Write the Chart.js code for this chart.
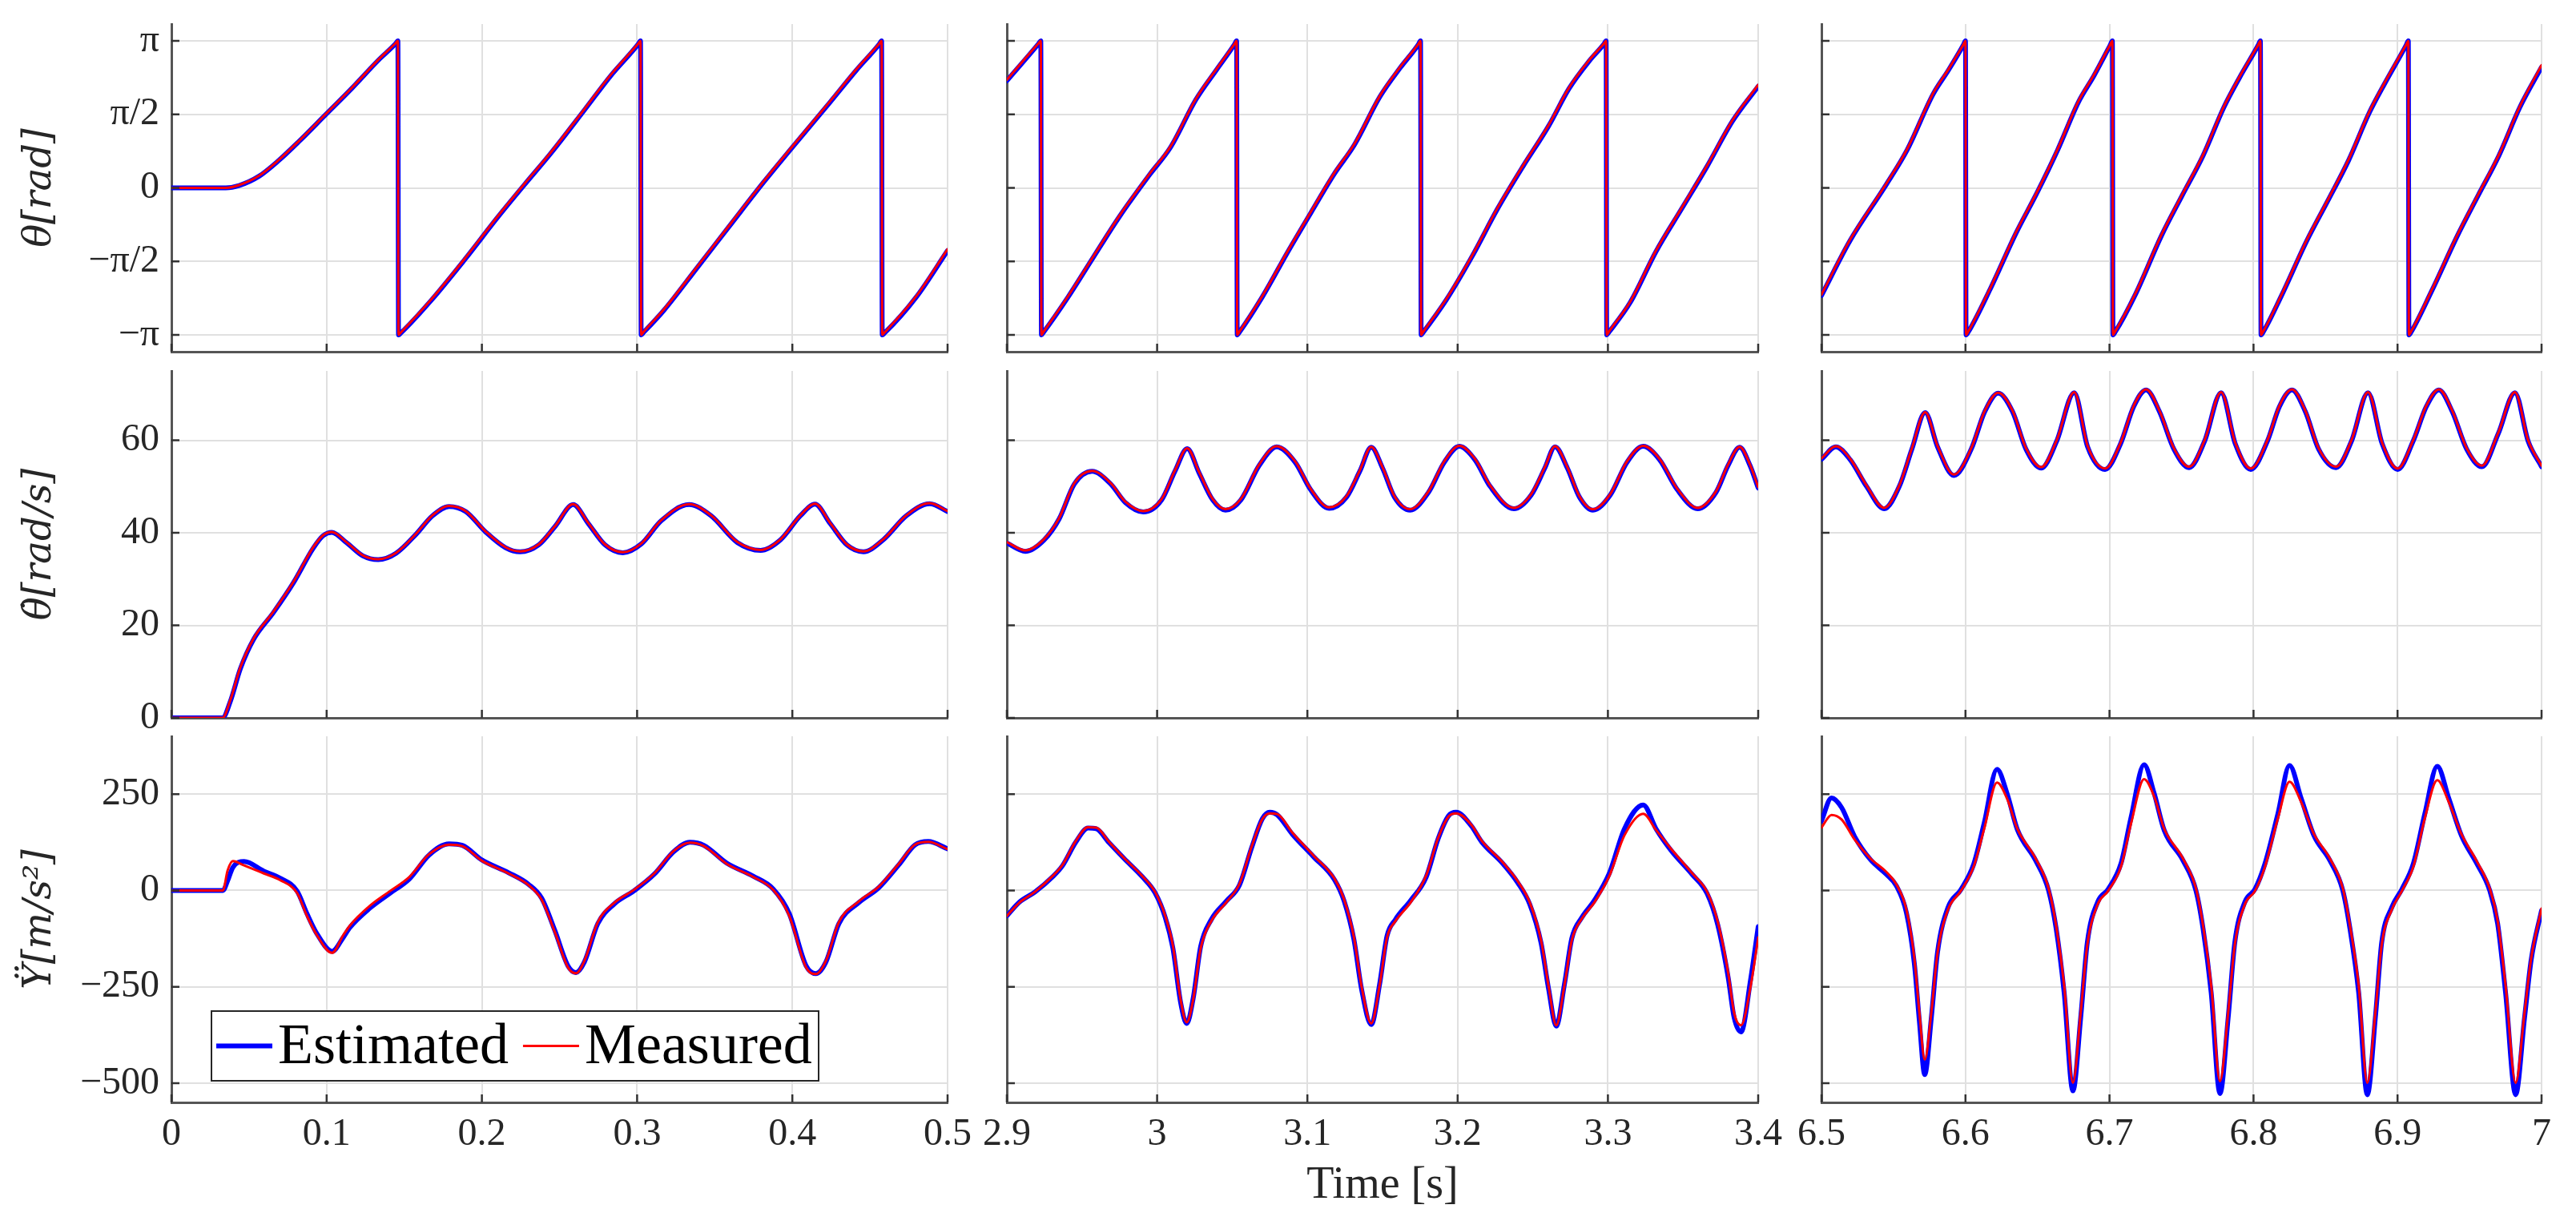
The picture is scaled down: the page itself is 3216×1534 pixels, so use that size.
<!DOCTYPE html>
<html>
<head>
<meta charset="utf-8">
<title>Estimated vs measured</title>
<script src="https://cdn.jsdelivr.net/npm/chart.js@4.4.0/dist/chart.umd.min.js"></script>
<style>
  html, body { margin: 0; padding: 0; background: #fff; }
  body { width: 3216px; height: 1534px; position: relative; overflow: hidden; }
  canvas { position: absolute; }
</style>
</head>
<body>
<script>
// --- tick values / labels ---
const thetaTicks = [-Math.PI, -Math.PI / 2, 0, Math.PI / 2, Math.PI];
const thetaTickLabels = ['\u2212\u03c0', '\u2212\u03c0/2', '0', '\u03c0/2', '\u03c0'];
const omegaTicks = [0, 20, 40, 60];
const omegaTickLabels = ['0', '20', '40', '60'];
const accTicks = [-500, -250, 0, 250];
const accTickLabels = ['\u2212500', '\u2212250', '0', '250'];
const timeTicks1 = [0, 0.1, 0.2, 0.3, 0.4, 0.5];
const timeLabels1 = ['0', '0.1', '0.2', '0.3', '0.4', '0.5'];
const timeTicks2 = [2.9, 3.0, 3.1, 3.2, 3.3, 3.4];
const timeLabels2 = ['2.9', '3', '3.1', '3.2', '3.3', '3.4'];
const timeTicks3 = [6.5, 6.6, 6.7, 6.8, 6.9, 7.0];
const timeLabels3 = ['6.5', '6.6', '6.7', '6.8', '6.9', '7'];

// --- theta [rad] ---
const th1T = [0, 0.035, 0.0436, 0.0565, 0.0693, 0.0821, 0.0992, 0.1163, 0.1334, 0.1444, 0.1459, 0.1463, 0.1478, 0.1677, 0.189, 0.2104, 0.2275, 0.2447, 0.266, 0.2831, 0.3007, 0.3022, 0.3026, 0.3041, 0.3174, 0.3388, 0.3601, 0.3815, 0.3986, 0.4243, 0.4414, 0.456, 0.4575, 0.4579, 0.4594, 0.4799, 0.5];
const th1Meas = [0, 0, 0.06, 0.26, 0.6, 1.0, 1.57, 2.14, 2.74, 3.09, 3.14, -3.14, -3.09, -2.37, -1.51, -0.6, 0.09, 0.77, 1.68, 2.42, 3.08, 3.14, -3.14, -3.08, -2.59, -1.68, -0.77, 0.14, 0.83, 1.85, 2.54, 3.08, 3.14, -3.14, -3.09, -2.31, -1.31];
const th1Est = [0, 0, 0.05, 0.25, 0.59, 0.99, 1.56, 2.13, 2.73, 3.08, 3.14, -3.14, -3.10, -2.39, -1.53, -0.62, 0.07, 0.75, 1.66, 2.40, 3.07, 3.14, -3.14, -3.09, -2.61, -1.70, -0.79, 0.12, 0.81, 1.83, 2.52, 3.07, 3.14, -3.14, -3.10, -2.33, -1.34];

const th2T = [2.9, 2.9211, 2.9226, 2.923, 2.9245, 2.9408, 2.9578, 2.9748, 2.9952, 3.0088, 3.0259, 3.0395, 3.0514, 3.0529, 3.0533, 3.0548, 3.070, 3.0871, 3.1007, 3.1177, 3.1313, 3.1483, 3.1619, 3.1738, 3.1753, 3.1757, 3.1772, 3.1925, 3.2095, 3.2265, 3.2435, 3.2605, 3.2741, 3.2878, 3.2973, 3.2988, 3.2992, 3.3007, 3.315, 3.332, 3.349, 3.366, 3.383, 3.4];
const th2Meas = [2.31, 3.09, 3.14, -3.14, -3.07, -2.31, -1.45, -0.6, 0.31, 0.88, 1.91, 2.54, 3.07, 3.14, -3.14, -3.07, -2.31, -1.34, -0.6, 0.31, 0.94, 1.97, 2.59, 3.07, 3.14, -3.14, -3.07, -2.37, -1.45, -0.43, 0.48, 1.34, 2.14, 2.74, 3.08, 3.14, -3.14, -3.07, -2.42, -1.34, -0.43, 0.48, 1.45, 2.2];
const th2Est = [2.29, 3.08, 3.14, -3.14, -3.08, -2.33, -1.47, -0.62, 0.29, 0.86, 1.89, 2.52, 3.06, 3.14, -3.14, -3.08, -2.33, -1.36, -0.62, 0.29, 0.92, 1.95, 2.57, 3.06, 3.14, -3.14, -3.08, -2.39, -1.47, -0.45, 0.46, 1.32, 2.12, 2.72, 3.07, 3.14, -3.14, -3.08, -2.44, -1.36, -0.45, 0.46, 1.43, 2.17];

const th3T = [6.5, 6.5198, 6.545, 6.5595, 6.5775, 6.5883, 6.5985, 6.6, 6.6004, 6.6019, 6.6172, 6.6352, 6.6496, 6.664, 6.6784, 6.6893, 6.7005, 6.702, 6.7024, 6.7039, 6.7181, 6.7361, 6.7505, 6.765, 6.7794, 6.7902, 6.8033, 6.8048, 6.8052, 6.8067, 6.819, 6.837, 6.8515, 6.8659, 6.8803, 6.8911, 6.906, 6.9075, 6.9079, 6.9094, 6.9236, 6.9416, 6.956, 6.9704, 6.9849, 7.0];
const th3Meas = [-2.28, -1.11, 0.09, 0.83, 2.02, 2.54, 3.06, 3.14, -3.14, -3.07, -2.14, -0.94, -0.09, 0.83, 1.85, 2.42, 3.06, 3.14, -3.14, -3.07, -2.25, -1.0, -0.14, 0.71, 1.74, 2.37, 3.06, 3.14, -3.14, -3.07, -2.31, -1.11, -0.26, 0.6, 1.62, 2.25, 3.06, 3.14, -3.14, -3.07, -2.19, -1.0, -0.14, 0.71, 1.74, 2.62];
const th3Est = [-2.30, -1.13, 0.07, 0.81, 2.0, 2.52, 3.05, 3.14, -3.14, -3.08, -2.16, -0.96, -0.11, 0.81, 1.83, 2.40, 3.05, 3.14, -3.14, -3.08, -2.27, -1.02, -0.16, 0.69, 1.72, 2.35, 3.05, 3.14, -3.14, -3.08, -2.33, -1.13, -0.28, 0.58, 1.60, 2.23, 3.05, 3.14, -3.14, -3.08, -2.21, -1.02, -0.16, 0.69, 1.72, 2.58];

// --- theta dot [rad/s] ---
const om1T = [0, 0.0329, 0.038, 0.0444, 0.053, 0.0658, 0.0786, 0.0914, 0.0978, 0.1033, 0.1127, 0.1234, 0.1332, 0.1448, 0.1576, 0.1682, 0.1789, 0.1896, 0.2024, 0.2152, 0.2246, 0.2366, 0.2472, 0.2588, 0.2686, 0.2793, 0.2908, 0.3027, 0.3155, 0.3335, 0.3476, 0.3646, 0.3796, 0.3924, 0.4052, 0.4146, 0.4244, 0.4351, 0.4458, 0.4586, 0.4735, 0.4885, 0.5];
const om1Meas = [0, 0, 3.9, 10.9, 17.2, 23, 29.4, 36.9, 39.5, 40.2, 38, 35.1, 34.3, 35.7, 39.8, 43.8, 45.8, 44.7, 40.3, 36.9, 36, 37.5, 41.5, 46.2, 42.1, 37.5, 35.8, 37.7, 42.7, 46.2, 43.8, 38, 36.3, 38.6, 43.8, 46.3, 42.1, 37.5, 36, 38.6, 43.8, 46.4, 44.7];
const om1Est = [0, 0, 3.6, 10.6, 17.0, 22.8, 29.2, 36.7, 39.4, 40.1, 37.9, 35.0, 34.2, 35.6, 39.7, 43.7, 45.7, 44.6, 40.2, 36.8, 35.9, 37.4, 41.4, 46.1, 42.0, 37.4, 35.7, 37.6, 42.6, 46.1, 43.7, 37.9, 36.2, 38.5, 43.7, 46.2, 42.0, 37.4, 35.9, 38.5, 43.7, 46.3, 44.6];

const om2T = [2.9, 2.9123, 2.9246, 2.9348, 2.945, 2.9567, 2.969, 2.979, 2.9908, 3.003, 3.012, 3.020, 3.028, 3.037, 3.0455, 3.0557, 3.068, 3.0796, 3.092, 3.102, 3.1145, 3.126, 3.135, 3.1425, 3.15, 3.158, 3.1684, 3.1807, 3.191, 3.2012, 3.2115, 3.2217, 3.2374, 3.249, 3.258, 3.2648, 3.273, 3.2811, 3.290, 3.3016, 3.3126, 3.3235, 3.3344, 3.346, 3.3597, 3.372, 3.380, 3.3877, 3.3945, 3.4];
const om2Meas = [38, 36.2, 38.6, 43.2, 50.8, 53.4, 50.8, 46.7, 44.7, 47.3, 53.6, 58.3, 53.1, 47.3, 45.1, 47.3, 54.8, 58.7, 55.4, 49.6, 45.5, 47.9, 53.6, 58.6, 54.2, 47.9, 45.1, 49, 55.4, 58.8, 56, 50.2, 45.4, 48.4, 54.2, 58.7, 54.2, 47.9, 45.1, 48.4, 55.4, 58.8, 56, 49.6, 45.4, 49, 54.8, 58.6, 54.8, 49.9];
const om2Est = [37.8, 36.0, 38.4, 43.0, 50.6, 53.3, 50.6, 46.5, 44.5, 47.1, 53.4, 58.2, 52.9, 47.1, 44.9, 47.1, 54.6, 58.6, 55.2, 49.4, 45.3, 47.7, 53.4, 58.5, 54.0, 47.7, 44.9, 48.8, 55.2, 58.7, 55.8, 50.0, 45.2, 48.2, 54.0, 58.6, 54.0, 47.7, 44.9, 48.2, 55.2, 58.7, 55.8, 49.4, 45.2, 48.8, 54.6, 58.5, 54.6, 49.7];

const om3T = [6.5, 6.51, 6.52, 6.5314, 6.5435, 6.554, 6.5628, 6.572, 6.5806, 6.592, 6.604, 6.6134, 6.6227, 6.6327, 6.642, 6.6526, 6.6633, 6.6755, 6.6848, 6.6969, 6.7076, 6.7168, 6.7254, 6.7347, 6.7447, 6.7553, 6.766, 6.7775, 6.7874, 6.7981, 6.8096, 6.818, 6.8267, 6.836, 6.8452, 6.8573, 6.868, 6.8795, 6.8894, 6.9001, 6.9108, 6.920, 6.9287, 6.938, 6.948, 6.9586, 6.970, 6.9815, 6.9907, 7.0];
const om3Meas = [56.1, 58.7, 56, 50.2, 45.4, 50.2, 58.3, 66.1, 58.8, 52.6, 58.3, 66.4, 70.3, 66.4, 58.3, 54.2, 60, 70.4, 58.8, 53.9, 59.4, 67.5, 71, 66.4, 58.3, 54.3, 60, 70.4, 59.4, 53.9, 60, 67.5, 71, 66.4, 58.3, 54.3, 60, 70.4, 59.4, 53.9, 60, 67.5, 71, 66.4, 58.3, 54.5, 61.7, 70.4, 60, 54.5];
const om3Est = [55.9, 58.6, 55.8, 50.0, 45.2, 50.0, 58.1, 66.0, 58.6, 52.4, 58.1, 66.2, 70.2, 66.2, 58.1, 54.0, 59.8, 70.3, 58.6, 53.7, 59.2, 67.3, 70.9, 66.2, 58.1, 54.1, 59.8, 70.3, 59.2, 53.7, 59.8, 67.3, 70.9, 66.2, 58.1, 54.1, 59.8, 70.3, 59.2, 53.7, 59.8, 67.3, 70.9, 66.2, 58.1, 54.3, 61.5, 70.3, 59.8, 54.3];

// --- Y double dot [m/s^2] ---
const acc1T = [0, 0.0332, 0.0362, 0.0396, 0.0468, 0.0596, 0.070, 0.081, 0.0873, 0.0937, 0.1035, 0.1107, 0.115, 0.1278, 0.1405, 0.1533, 0.166, 0.1789, 0.1874, 0.200, 0.2172, 0.230, 0.2385, 0.247, 0.2555, 0.2606, 0.266, 0.2747, 0.2853, 0.298, 0.311, 0.3237, 0.334, 0.343, 0.3577, 0.3748, 0.3876, 0.398, 0.4089, 0.4152, 0.4216, 0.430, 0.443, 0.4557, 0.4685, 0.479, 0.4876, 0.5];
const acc1Meas = [0, 0, 52, 76, 65, 44, 27, -7, -66, -116, -162, -116, -91, -40, -2.5, 35, 94, 119, 115, 77, 44, 14, -24, -108, -200, -215, -183, -82, -32, 1.7, 44, 103, 124, 115, 69, 35, 1.7, -66, -200, -217, -183, -82, -28, 10, 69, 119, 126, 107];
const acc1Est = [0, 0, 25, 60, 75, 50, 32, -2, -60, -112, -158, -122, -96, -46, -8, 30, 92, 121, 117, 79, 46, 16, -20, -104, -196, -213, -186, -86, -35, -1, 42, 101, 125, 117, 71, 37, 4, -60, -196, -216, -186, -86, -31, 7, 66, 118, 127, 108];

const acc2T = [2.9, 2.9085, 2.9187, 2.9306, 2.937, 2.946, 2.954, 2.9595, 2.968, 2.978, 2.990, 2.9986, 3.0054, 3.0105, 3.0156, 3.0197, 3.024, 3.029, 3.036, 3.046, 3.0548, 3.063, 3.070, 3.075, 3.080, 3.090, 3.104, 3.118, 3.1245, 3.131, 3.136, 3.1425, 3.148, 3.153, 3.1585, 3.1687, 3.179, 3.187, 3.194, 3.199, 3.209, 3.216, 3.230, 3.240, 3.248, 3.2555, 3.2605, 3.2656, 3.271, 3.276, 3.2827, 3.291, 3.301, 3.311, 3.3235, 3.332, 3.342, 3.356, 3.366, 3.373, 3.380, 3.384, 3.3886, 3.395, 3.4];
const acc2Meas = [-66, -31, -3.5, 38, 66, 129, 164, 163, 126, 84, 38, -3.5, -66, -143, -283, -342, -283, -150, -80, -31, 17, 115, 185, 200, 198, 150, 91, 31, -24, -122, -248, -345, -248, -122, -80, -31, 38, 136, 192, 200, 171, 129, 73, 24, -31, -129, -248, -350, -248, -129, -73, -31, 38, 143, 199, 157, 108, 45, -3.5, -80, -213, -318, -350, -248, -122];
const acc2Est = [-66, -30, -4, 36, 64, 126, 162, 160, 124, 83, 36, -6, -70, -150, -290, -345, -280, -145, -76, -28, 14, 112, 186, 203, 196, 146, 88, 28, -28, -128, -255, -348, -245, -118, -76, -26, 34, 134, 194, 203, 168, 126, 70, 20, -36, -136, -255, -352, -245, -124, -70, -26, 45, 160, 222, 160, 104, 42, -8, -88, -225, -330, -367, -230, -94];

const acc3T = [6.5, 6.507, 6.514, 6.523, 6.534, 6.545, 6.552, 6.559, 6.5645, 6.568, 6.5717, 6.5763, 6.5806, 6.5878, 6.5968, 6.6057, 6.613, 6.6219, 6.629, 6.636, 6.6487, 6.6577, 6.663, 6.6685, 6.6746, 6.680, 6.6846, 6.6918, 6.699, 6.708, 6.715, 6.724, 6.731, 6.738, 6.751, 6.760, 6.765, 6.7706, 6.7767, 6.7824, 6.787, 6.794, 6.801, 6.808, 6.817, 6.825, 6.833, 6.842, 6.853, 6.862, 6.867, 6.873, 6.879, 6.8846, 6.889, 6.896, 6.903, 6.911, 6.919, 6.9276, 6.9355, 6.9444, 6.955, 6.964, 6.9695, 6.975, 6.982, 6.9882, 6.9928, 7.0];
const acc3Meas = [163, 196, 184, 132, 83, 48, 16, -50, -176, -317, -439, -317, -162, -50, -1.4, 62, 160, 280, 237, 160, 83, 5.6, -92, -246, -499, -317, -141, -36, -1.4, 62, 174, 289, 244, 160, 83, 5.6, -92, -246, -495, -317, -141, -36, -1.4, 62, 188, 282, 230, 146, 83, 5.6, -92, -246, -499, -317, -141, -50, -1.4, 62, 188, 286, 230, 146, 76, 5.6, -78, -246, -499, -317, -176, -47];
const acc3Est = [180, 240, 215, 140, 80, 42, 12, -58, -190, -340, -478, -330, -160, -45, 2, 68, 175, 314, 250, 158, 78, 0, -100, -265, -520, -330, -135, -30, 3, 70, 190, 326, 252, 156, 78, 0, -100, -265, -527, -330, -135, -30, 3, 70, 200, 324, 240, 142, 78, 0, -100, -265, -530, -330, -135, -44, 3, 70, 200, 322, 240, 142, 70, 0, -86, -265, -530, -330, -180, -52];


// --- layout (page pixels) ---
const colLeft = [214, 1257, 2274];
const colRight = [1183, 2195, 3173];
const rowTop = [30, 463, 919];
const rowBottom = [439, 896, 1376];

const serif = '"Liberation Serif", "Times New Roman", serif';
const mathSerif = '"DejaVu Serif", "Liberation Serif", serif';
const textColor = '#262626';
const gridColor = '#e0e0e0';
const axisColor = '#555555';

const rowCfg = [
  { min: -3.5, max: 3.5, ticks: thetaTicks, labels: thetaTickLabels, title: '\u03b8[rad]' },
  { min: 0, max: 75, ticks: omegaTicks, labels: omegaTickLabels, title: '\u03b8\u0307[rad/s]' },
  { min: -550, max: 400, ticks: accTicks, labels: accTickLabels, title: '\u0178[m/s\u00b2]' }
];
const colCfg = [
  { min: 0, max: 0.5, ticks: timeTicks1, labels: timeLabels1 },
  { min: 2.9, max: 3.4, ticks: timeTicks2, labels: timeLabels2 },
  { min: 6.5, max: 7.0, ticks: timeTicks3, labels: timeLabels3 }
];

function toPoints(t, v) {
  return t.map((x, i) => ({ x: x, y: v[i] }));
}

// MATLAB style ticks pointing into the axes
const innerTicks = {
  id: 'innerTicks',
  afterDatasetsDraw(chart) {
    const { ctx, chartArea: a, scales: { x, y } } = chart;
    ctx.save();
    ctx.strokeStyle = '#333';
    ctx.lineWidth = 2.5;
    ctx.beginPath();
    x.ticks.forEach(tk => {
      const px = x.getPixelForValue(tk.value);
      ctx.moveTo(px, a.bottom);
      ctx.lineTo(px, a.bottom - 10);
    });
    y.ticks.forEach(tk => {
      const py = y.getPixelForValue(tk.value);
      ctx.moveTo(a.left, py);
      ctx.lineTo(a.left + 10, py);
    });
    ctx.stroke();
    ctx.restore();
  }
};

// legend box inside the lower left axes
const legendBox = {
  id: 'legendBox',
  afterDraw(chart) {
    const { ctx, chartArea: a } = chart;
    const x0 = a.left + 50, y0 = a.top + 343, w = 758, h = 87;
    const cy = y0 + h / 2;
    ctx.save();
    ctx.fillStyle = '#fff';
    ctx.fillRect(x0, y0, w, h);
    ctx.strokeStyle = '#262626';
    ctx.lineWidth = 2;
    ctx.strokeRect(x0, y0, w, h);
    ctx.font = '72px ' + serif;
    ctx.textBaseline = 'middle';
    let cx = x0 + 6;
    chart.data.datasets.forEach(ds => {
      ctx.strokeStyle = ds.borderColor;
      ctx.lineWidth = ds.borderWidth;
      ctx.beginPath();
      ctx.moveTo(cx, cy);
      ctx.lineTo(cx + 70, cy);
      ctx.stroke();
      cx += 77;
      ctx.fillStyle = '#000';
      ctx.fillText(ds.label, cx, cy + 3);
      cx += ctx.measureText(ds.label).width + 18;
    });
    ctx.restore();
  }
};

function drawPanel(r, c, t, est, meas) {
  const left = c === 0 ? 0 : colLeft[c] - 40;
  const top = rowTop[r] - 25;
  const right = colRight[c] + 45;
  const bottom = r === 2 ? 1534 : rowBottom[r] + 20;
  const width = right - left, height = bottom - top;
  const yWidth = colLeft[c] - left;
  const xHeight = bottom - rowBottom[r];
  const R = rowCfg[r], C = colCfg[c];

  const canvas = document.createElement('canvas');
  canvas.width = width;
  canvas.height = height;
  canvas.style.left = left + 'px';
  canvas.style.top = top + 'px';
  canvas.style.width = width + 'px';
  canvas.style.height = height + 'px';
  document.body.appendChild(canvas);

  const plugins = [innerTicks];
  if (r === 2 && c === 0) plugins.push(legendBox);

  new Chart(canvas, {
    type: 'line',
    data: {
      datasets: [
        { label: 'Estimated', data: toPoints(t, est), borderColor: '#0000ff', borderWidth: 6, order: 1 },
        { label: 'Measured', data: toPoints(t, meas), borderColor: '#ff0000', borderWidth: 3, order: 0 }
      ]
    },
    options: {
      responsive: false,
      animation: false,
      devicePixelRatio: 1,
      events: [],
      layout: { padding: { top: 25, right: 45, left: 0, bottom: 0 } },
      elements: {
        point: { radius: 0 },
        line: { tension: 0.4, cubicInterpolationMode: 'monotone', borderCapStyle: 'round', borderJoinStyle: 'round' }
      },
      plugins: { legend: { display: false }, tooltip: { enabled: false } },
      scales: {
        x: {
          type: 'linear', min: C.min, max: C.max,
          afterBuildTicks: s => { s.ticks = C.ticks.map(v => ({ value: v })); },
          afterFit: s => { s.height = xHeight; s.paddingLeft = 0; s.paddingRight = 0; },
          grid: { color: gridColor, lineWidth: 2, drawTicks: false },
          border: { color: axisColor, width: 3 },
          ticks: {
            display: r === 2, autoSkip: false, maxRotation: 0, minRotation: 0, padding: 12,
            color: textColor, font: { family: serif, size: 48 },
            callback: (v, i) => C.labels[i]
          },
          title: {
            display: r === 2 && c === 1, text: 'Time [s]', color: textColor,
            font: { family: serif, size: 56 }, padding: { top: 0, bottom: 20 }
          }
        },
        y: {
          type: 'linear', min: R.min, max: R.max,
          afterBuildTicks: s => { s.ticks = R.ticks.map(v => ({ value: v })); },
          afterFit: s => { s.width = yWidth; s.paddingTop = 0; s.paddingBottom = 0; },
          grid: { color: gridColor, lineWidth: 2, drawTicks: false },
          border: { color: axisColor, width: 3 },
          ticks: {
            display: c === 0, padding: 15, color: textColor,
            font: { family: serif, size: 48 },
            callback: (v, i) => R.labels[i]
          },
          title: {
            display: c === 0, text: R.title, color: textColor,
            font: { family: mathSerif, size: 48, style: 'italic' }, padding: { top: 22, bottom: 0 }
          }
        }
      }
    },
    plugins: plugins
  });
}

drawPanel(0, 0, th1T, th1Est, th1Meas);
drawPanel(0, 1, th2T, th2Est, th2Meas);
drawPanel(0, 2, th3T, th3Est, th3Meas);
drawPanel(1, 0, om1T, om1Est, om1Meas);
drawPanel(1, 1, om2T, om2Est, om2Meas);
drawPanel(1, 2, om3T, om3Est, om3Meas);
drawPanel(2, 0, acc1T, acc1Est, acc1Meas);
drawPanel(2, 1, acc2T, acc2Est, acc2Meas);
drawPanel(2, 2, acc3T, acc3Est, acc3Meas);
</script>
</body>
</html>
